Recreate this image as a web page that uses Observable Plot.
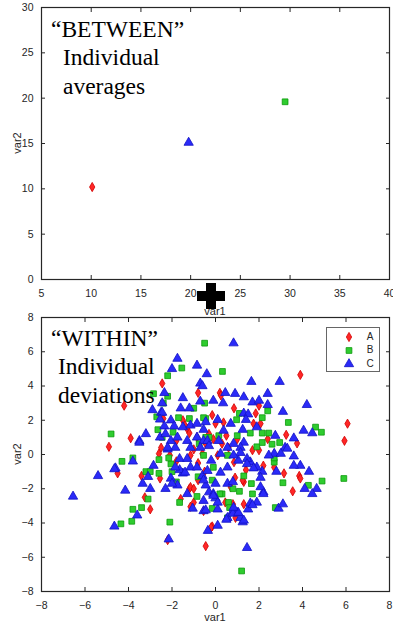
<!DOCTYPE html>
<html><head><meta charset="utf-8">
<script src="https://cdn.jsdelivr.net/npm/d3@7"></script>
<script src="https://cdn.jsdelivr.net/npm/@observablehq/plot@0.6"></script>
<style>
body{margin:0;background:#fff;}
#wrap{position:relative;width:393px;height:625px;overflow:hidden;background:#fff;}
#wrap > svg, #wrap > div{position:absolute;left:0;}
</style></head>
<body><div id="wrap"></div>
<script>
// ---------- DATA ----------
const groups = ["A", "B", "C"];
const groupSymbols = ["diamond", "square", "triangle"];
const groupFills = ["#ff2626", "#2fcc2f", "#2a2af8"];
const groupStrokes = ["#d00000", "#0b990b", "#1212c4"];

// BETWEEN: individual averages
const betweenVar1 = [10.1, 29.5, 19.8];
const betweenVar2 = [10.2, 19.6, 15.1];

// WITHIN: individual deviations
const withinA = [
[-4.9,0.45],[-3.9,0.95],[-4.2,2.85],[-2.45,4.15],[-0.8,3.6],[3.9,4.65],[0.2,3.6],[0.25,3.45],
[2.0,2.85],[0.85,2.7],[1.85,2.4],[-0.15,2.3],[0.37,1.87],[0,1.8],[1.75,1.8],[2.07,1.8],
[3.25,1.15],[3.75,0.65],[-0.1,0.9],[6.07,1.8],[5.93,0.8],[3.85,-1.25],[3.55,-2.15],[3.15,-1.1],
[3.9,-1.4],[1.3,-2.9],[-0.45,-5.35],[-0.15,-4.2],[0.45,-2.8],[1.3,-1.6],[-4.5,-1.1],[-3.4,-1.25],
[-2.55,-1.4],[-2.6,0.05],[-3.25,-2.5],[-3.0,-3.2],[-2.2,-5.0],[-1.15,-3.05],[-1.0,-2.8],[-1.2,-2.0],
[-2.1,-0.05],[-1.15,-0.05],[-0.8,-1.5],[-1.15,-1.9],[-0.55,-3.3],[-0.2,-4.25],[0.8,-2.9],[0.92,-3.7],
[-2.4,2.1],[-1.5,2.0],[-1.3,1.5],[-1.2,1.25],[-1.8,0.8],[-2.5,0.4],[-1.4,1.7],[-0.8,-0.5],
[0.3,0.63],[0.6,0.4],[0.1,-0.05],[0.85,-0.45],[0.9,-1.35],[1.25,-1.5],[1.7,0.25],[2.0,0.25],
[2.2,-0.65],[-0.45,0.63],[-0.6,0.05],[-1.0,-2.0],[-0.3,1.2],[0.5,1.1],[-1.8,-0.4],[1.4,-0.9],
[-0.5,-1.0],[0.7,-1.9],[-1.6,-2.6],[2.4,0.9],[1.0,0.9],[-1.0,0.3],[2.7,-0.75],[-0.85,1.0]
];
const withinB = [
[-4.8,1.2],[-4.3,-0.4],[-3.8,-0.2],[-2.2,4.6],[-1.55,5.05],[-2.85,3.55],[-2.2,3.4],[-2.4,3.0],
[-0.5,6.5],[0.32,4.85],[-0.5,3.0],[-1.0,2.7],[-2.7,2.2],[2.4,2.55],[1.1,2.4],[2.15,2.15],
[0.97,2.03],[3.35,1.87],[1.6,1.25],[2.15,1.25],[2.45,1.25],[4.6,1.6],[4.87,1.3],[2.95,0.7],
[2.6,0.6],[1.9,0.45],[4.27,-1.8],[4.9,-1.55],[5.9,-1.4],[2.7,-0.45],[2.7,-0.2],[3.1,-1.65],
[2.75,-3.1],[-0.15,-3.15],[0.6,-2.8],[1.7,-2.3],[1.65,-1.7],[1.1,-2.15],[1.2,-6.8],[0.65,-3.1],
[0.3,-2.3],[-0.85,-2.45],[-3.2,-1.0],[-3.0,-1.0],[-2.6,-1.1],[-2.6,-0.3],[-3.1,-2.6],[-3.8,-3.2],
[-3.4,-3.1],[-3.85,-3.9],[-4.35,-4.05],[-2.1,-3.95],[-1.65,-2.8],[-1.8,-1.6],[-2.0,-1.0],[-2.05,-0.55],
[-2.15,-0.2],[-1.7,2.15],[-1.2,2.1],[-0.45,2.1],[-2.65,1.45],[-2.45,1.0],[-1.95,1.3],[-0.3,1.0],
[-0.75,0.63],[-0.55,2.15],[-0.45,1.0],[0.15,1.1],[1.0,1.1],[2.15,0.7],[-0.55,-0.05],[-0.1,-0.75],
[0.55,-0.05],[1.3,-1.25],[-0.15,-1.5],[0.2,-2.3],[0.8,-2.0],[0.55,-3.7],[-0.8,-1.3]
];
const withinC = [
[-1.75,5.6],[-2.0,5.0],[-0.85,5.2],[-2.35,3.6],[-1.5,3.3],[-2.9,2.6],[-2.5,2.45],[-3.2,1.2],
[-3.5,0.8],[-3.8,-0.4],[-4.6,-0.8],[-0.4,4.7],[-0.7,4.15],[-0.7,3.1],[-2.45,3.0],[-1.6,2.7],
[-1.2,2.7],[-2.45,2.45],[0.83,6.5],[1.65,4.25],[2.95,4.25],[-0.6,4.0],[0.45,3.6],[0.9,3.55],
[1.3,3.35],[2.4,3.55],[-0.1,3.15],[0.35,3.0],[1.7,3.05],[2.0,3.15],[2.4,2.9],[4.2,2.9],
[3.1,2.5],[1.3,2.4],[1.5,2.35],[0.1,2.03],[1.4,2.03],[0.7,1.8],[1.9,1.6],[-0.55,1.45],
[0.37,1.4],[1.25,1.45],[2.75,1.1],[4.05,1.4],[4.45,1.25],[3.6,0.95],[3.2,0.4],[3.6,-0.1],
[3.9,-0.65],[4.3,-1.0],[4.65,-2.0],[4.45,-2.3],[4.1,-2.0],[2.7,0.05],[3.0,0.05],[3.6,-0.65],
[2.8,-1.0],[2.2,-2.2],[1.9,-2.8],[1.5,-3.2],[2.9,-3.15],[3.1,-2.9],[1.45,-5.45],[1.0,-3.4],
[0.8,-3.3],[0.55,-3.7],[1.25,-3.95],[1.15,-3.7],[0.1,-4.15],[-0.35,-4.45],[0.1,-3.2],[-0.55,-3.3],
[1.6,-2.85],[2.07,-1.9],[2.15,-1.0],[1.9,-0.75],[1.6,-0.45],[2.07,-1.35],[2.45,-0.05],[-3.5,0.7],
[-5.4,-1.25],[-4.65,-0.85],[-4.15,-2.1],[-3.35,-1.7],[-3.0,-2.0],[-2.85,-0.65],[-3.1,-1.3],[-2.3,-2.0],
[-3.6,-3.55],[-4.65,-4.2],[-2.15,-4.95],[-1.05,-3.15],[-0.45,-3.25],[-1.3,-2.3],[-2.05,-1.4],[-1.75,-1.8],
[-1.5,-1.1],[-1.65,-0.9],[-1.4,-1.05],[-1.85,-0.75],[-2.2,0.3],[-1.85,0.4],[-1.65,-0.25],[-1.3,-0.25],
[-1.15,-0.75],[-0.85,-0.75],[-0.6,-1.25],[-0.55,-2.7],[-0.3,-2.2],[-0.45,-1.8],[-6.55,-2.45],[-2.0,-1.7],
[-0.1,-2.3],[0,-2.55],[0.1,-2.8],[0.5,-3.8],[0.8,-3.45],[1.05,-3.4],[1.3,-3.85],[1.7,-2.95],
[-2.55,2.05],[-2.35,1.65],[-2.05,2.0],[-1.9,1.65],[-1.5,1.6],[-1.15,1.7],[-0.85,1.8],[-0.45,1.9],
[-2.55,1.0],[-2.3,1.2],[-2.05,0.8],[-1.75,1.0],[-1.3,0.8],[-0.85,1.0],[-0.55,0.8],[-2.2,0.4],
[-1.15,0.4],[-0.7,0.4],[-0.37,0.8],[0.15,0.8],[0.83,0.63],[1.3,0.7],[1.15,0.4],[0.55,0.4],
[-0.3,0.5],[-0.2,-0.35],[-0.37,-0.95],[-0.55,-1.5],[0,-1.7],[-0.1,-2.4],[0.23,-1.05],[0.55,-0.75],
[1.05,-0.35],[1.45,-0.25],[1.15,0.1],[0.83,-0.05],[0.23,0.05],[1.45,-0.55],[1.75,-0.8],[0.55,-1.7],
[0.8,-1.6],[0.83,-3.1],[3.3,0.35],[2.2,-2.3]
];

const betweenTicksX = [5,10,15,20,25,30,35,40];
const betweenTicksY = [0,5,10,15,20,25,30];
const withinTicks = [-8,-6,-4,-2,0,2,4,6,8];

// ---------- BUILD ----------
const between = groups.map((g,i)=>({g, i, var1: betweenVar1[i], var2: betweenVar2[i]}));
const within = [withinA, withinB, withinC].flatMap((arr,i)=>arr.map(([x,y])=>({g:groups[i], i, var1:x, var2:y})));

const axisColor = "#262626";
const fontStyle = {fontFamily:"'Liberation Sans', Arial, sans-serif", fontSize:"10.5px", color:axisColor, background:"none", overflow:"visible"};

function dotsFor(data, i){
  const rs = [2.8, 3.25, 3.45];
  return Plot.dot(data.filter(d=>d.i===i), {x:"var1", y:"var2", symbol:()=>groupSymbols[i], r:rs[i],
    fill:groupFills[i], stroke:groupStrokes[i], strokeWidth:0.8});
}

function axes(tx, ty){
  return [
    Plot.frame({stroke:axisColor, strokeWidth:1.2}),
    Plot.axisX({anchor:"bottom", ticks:tx, tickSize:-4, tickPadding:14, label:null, stroke:axisColor}),
    Plot.axisX({anchor:"top", ticks:tx, tickSize:-4, tickFormat:()=>"", label:null, stroke:axisColor}),
    Plot.axisY({anchor:"left", ticks:ty, tickSize:-4, tickPadding:12, label:null, stroke:axisColor}),
    Plot.axisY({anchor:"right", ticks:ty, tickSize:-4, tickFormat:()=>"", label:null, stroke:axisColor})
  ];
}

const topPlot = Plot.plot({
  width:393, height:320, marginLeft:41, marginRight:4, marginTop:7, marginBottom:41,
  x:{domain:[5,40]}, y:{domain:[0,30]},
  style:fontStyle,
  marks:[...axes(betweenTicksX, betweenTicksY), dotsFor(between,0), dotsFor(between,1), dotsFor(between,2)]
});
topPlot.style.top = "0px";

const botPlot = Plot.plot({
  width:393, height:325, marginLeft:41, marginRight:4, marginTop:17, marginBottom:34,
  x:{domain:[-8,8]}, y:{domain:[-8,8]},
  style:fontStyle,
  marks:[...axes(withinTicks, withinTicks), dotsFor(within,0), dotsFor(within,1), dotsFor(within,2)]
});
botPlot.style.top = "300px";

const wrap = document.getElementById("wrap");
wrap.appendChild(topPlot);
wrap.appendChild(botPlot);

// ---------- OVERLAY: labels, annotations, legend, plus ----------
const ov = d3.select(wrap).append("svg").attr("width",393).attr("height",625)
  .style("position","absolute").style("left","0px").style("top","0px");

const axLab = {"font-family":"'Liberation Sans', Arial, sans-serif", "font-size":"11px", fill:axisColor};
function txt(s, x, y, attrs, rot){
  const t = ov.append("text").text(s).attr("x",x).attr("y",y);
  for (const k in attrs) t.attr(k, attrs[k]);
  if (rot) t.attr("transform",`rotate(${rot},${x},${y})`);
  return t;
}
txt("var2", 18, 143, {...axLab, "text-anchor":"middle", "dominant-baseline":"middle"}, -90);
txt("var1", 215, 312, {...axLab, "text-anchor":"middle", "dominant-baseline":"middle"});
txt("var2", 18, 454, {...axLab, "text-anchor":"middle", "dominant-baseline":"middle"}, -90);
txt("var1", 215, 618, {...axLab, "text-anchor":"middle", "dominant-baseline":"middle"});

const serif = {"font-family":"'Liberation Serif', 'Times New Roman', serif", "font-size":"23.5px", fill:"#000"};
txt("\u201CBETWEEN\u201D", 51, 37, serif);
txt("Individual", 63, 65, serif);
txt("averages", 63, 94, serif);
txt("\u201CWITHIN\u201D", 51, 346, serif);
txt("Individual", 58, 374, serif);
txt("deviations", 58, 403, serif);

// legend
ov.append("rect").attr("x",326.5).attr("y",327.5).attr("width",53).attr("height",44)
  .attr("fill","#fff").attr("stroke","#666").attr("stroke-width",1);
const legSizes = [24.6, 33.2, 37.4];
const legSym = [d3.symbolDiamond, d3.symbolSquare, d3.symbolTriangle];
groups.forEach((g,i)=>{
  const yy = 337 + i*13.5;
  ov.append("path").attr("d", d3.symbol(legSym[i], legSizes[i])())
    .attr("transform",`translate(349,${yy})`).attr("fill",groupFills[i]).attr("stroke",groupStrokes[i]).attr("stroke-width",0.8);
  txt(g, 370, yy, {...axLab, "font-size":"10px", "text-anchor":"middle", "dominant-baseline":"middle"});
});

// big plus sign between panels
ov.append("rect").attr("x",197).attr("y",291).attr("width",28).attr("height",10).attr("fill","#000");
ov.append("rect").attr("x",206).attr("y",283).attr("width",10).attr("height",26).attr("fill","#000");
</script>
</body></html>
